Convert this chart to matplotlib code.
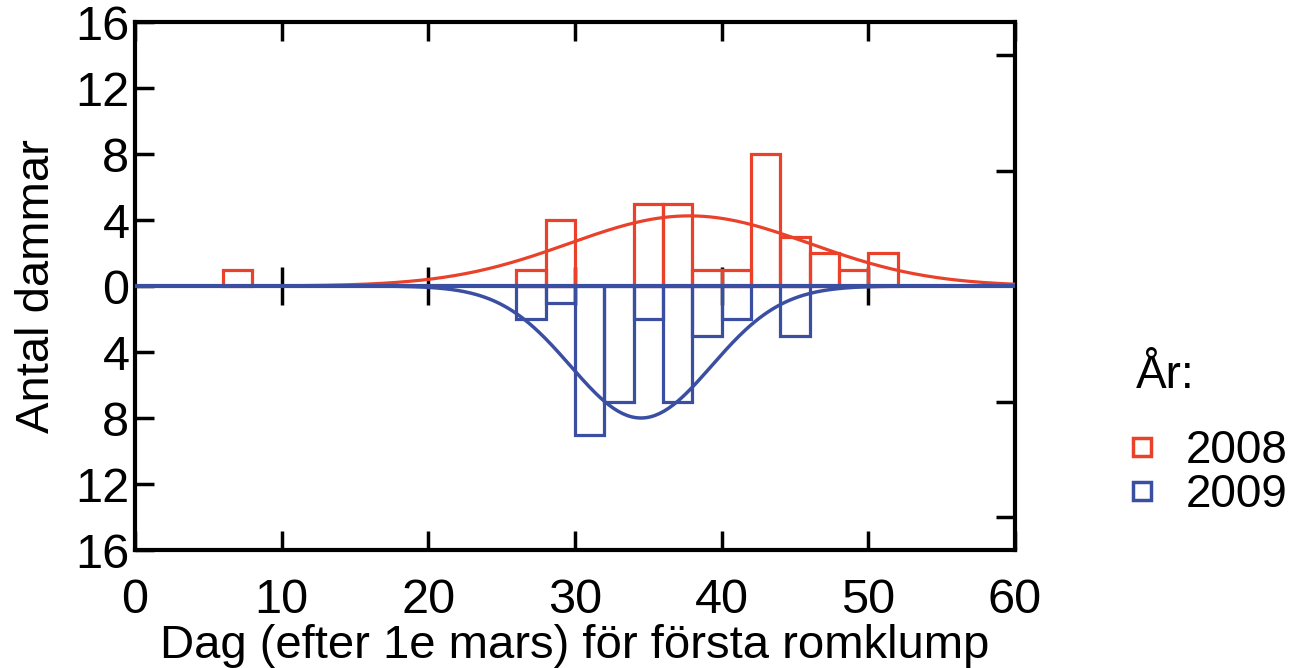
import numpy as np
import matplotlib
matplotlib.use("Agg")
import matplotlib.pyplot as plt
from matplotlib.lines import Line2D
from matplotlib.ticker import FuncFormatter

plt.rcParams["font.family"] = ["Liberation Sans", "DejaVu Sans"]

# 2008 (plotted upwards), bin start day, bins 2 days wide
bins_2008 = [6, 26, 28, 34, 36, 38, 40, 42, 44, 46, 48, 50]
counts_2008 = [1, 1, 4, 5, 5, 1, 1, 8, 3, 2, 1, 2]

# 2009 (plotted downwards)
bins_2009 = [26, 28, 30, 32, 34, 36, 38, 40, 44]
counts_2009 = [2, 1, 9, 7, 2, 7, 3, 2, 3]

# fitted normal curves: amplitude, mean day, sd
fit_2008 = (4.25, 37.8, 8.2)
fit_2009 = (8.0, 34.5, 4.8)

bin_width = 2
red = "#E9412A"
blue = "#3A4FA1"

fig = plt.figure(figsize=(12.91, 6.68), dpi=100)
ax = fig.add_axes([135 / 1291, 1 - 550 / 668, 880 / 1291, 528 / 668])

ax.bar(bins_2008, counts_2008, width=bin_width, align="edge", fill=False,
       edgecolor=red, linewidth=2.3, zorder=2)
ax.bar(bins_2009, [-c for c in counts_2009], width=bin_width, align="edge", fill=False,
       edgecolor=blue, linewidth=2.3, zorder=2)

x = np.linspace(0, 60, 400)
a, m, s = fit_2008
ax.plot(x, a * np.exp(-(x - m) ** 2 / (2 * s ** 2)), color=red, lw=2.3, zorder=3)
ax.axhline(0, color=blue, lw=3, zorder=4)
a, m, s = fit_2009
ax.plot(x, -a * np.exp(-(x - m) ** 2 / (2 * s ** 2)), color=blue, lw=2.5, zorder=4)

ax.set_xlim(0, 60)
ax.set_ylim(-16, 16)
ax.set_xticks(range(0, 61, 10))
ax.set_yticks(range(-16, 17, 4))
ax.yaxis.set_major_formatter(FuncFormatter(lambda v, p: f"{abs(int(v))}"))

for sp in ax.spines.values():
    sp.set_linewidth(3)

ax.tick_params(axis="both", direction="in", length=14, width=2.5, labelsize=35)
ax.tick_params(axis="x", top=True, pad=20)
ax.tick_params(axis="y", pad=4)

# ticks crossing the zero line
zx = ax.secondary_xaxis(0.5)
zx.set_xticks(range(10, 60, 10))
zx.tick_params(direction="inout", length=28, width=2.5, labelbottom=False)
zx.set_xticklabels([])
for sp in zx.spines.values():
    sp.set_visible(False)

# right axis ticks
ry = ax.secondary_yaxis("right")
ry.set_yticks([-14, -7, 7, 14])
ry.set_yticklabels([])
ry.tick_params(direction="in", length=14, width=2.5)

ax.set_xlabel("Dag (efter 1e mars) för första romklump", fontsize=34, labelpad=1)
ax.set_ylabel("Antal dammar", fontsize=34, labelpad=12)

handles = [
    Line2D([], [], ls="none", marker="s", markersize=13, markerfacecolor="none",
           markeredgecolor=red, markeredgewidth=2.5, label="2008"),
    Line2D([], [], ls="none", marker="s", markersize=13, markerfacecolor="none",
           markeredgecolor=blue, markeredgewidth=2.5, label="2009"),
]
leg = fig.legend(handles=handles, title="År:", loc="upper left",
                 bbox_to_anchor=(1126 / 1291, 1 - 354 / 668), frameon=False,
                 fontsize=33, title_fontsize=33, handlelength=0.7, borderpad=0,
                 borderaxespad=0, handletextpad=0.6, labelspacing=0.0,
                 alignment="left")
leg._legend_box.sep = 22
leg.get_title().set_position((10, 0))

fig.savefig("out.png", dpi=100)
